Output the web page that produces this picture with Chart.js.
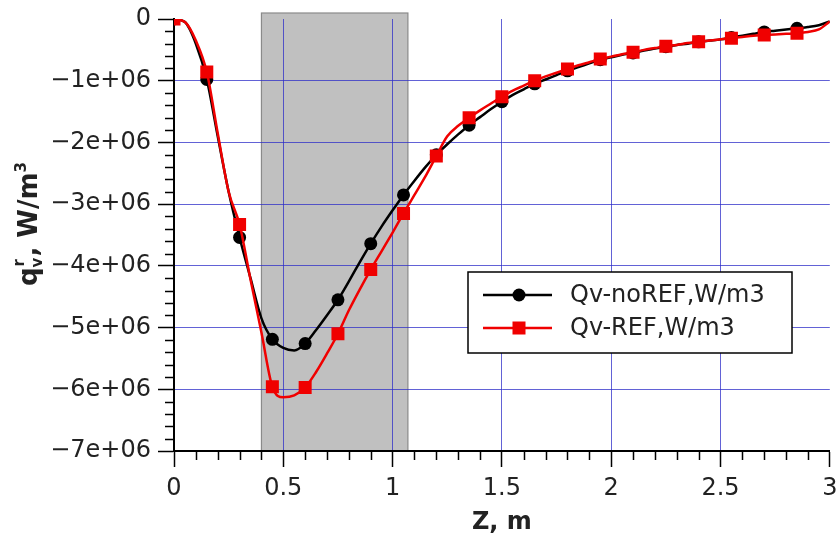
<!DOCTYPE html>
<html>
<head>
<meta charset="utf-8">
<script src="https://cdn.jsdelivr.net/npm/chart.js@4.4.1/dist/chart.umd.min.js"></script>
<style>
  html, body { margin: 0; padding: 0; background: #fff; }
  #wrap { width: 839px; height: 537px; }
</style>
</head>
<body>
<div id="wrap"><canvas id="chart" width="839" height="537"></canvas></div>
<script>
// Z positions, m
const zValues = [
  0.00, 0.05, 0.10, 0.15, 0.20, 0.25, 0.30, 0.35, 0.40, 0.45,
  0.50, 0.55, 0.60, 0.65, 0.70, 0.75, 0.80, 0.85, 0.90, 0.95,
  1.00, 1.05, 1.10, 1.15, 1.20, 1.25, 1.30, 1.35, 1.40, 1.45,
  1.50, 1.55, 1.60, 1.65, 1.70, 1.75, 1.80, 1.85, 1.90, 1.95,
  2.00, 2.05, 2.10, 2.15, 2.20, 2.25, 2.30, 2.35, 2.40, 2.45,
  2.50, 2.55, 2.60, 2.65, 2.70, 2.75, 2.80, 2.85, 2.90, 2.95,
  3.00
];

// Qv-noREF, W/m3
const qvNoRef = [
  0, -0.05e6, -0.40e6, -0.98e6, -1.90e6, -2.80e6, -3.54e6, -4.20e6, -4.85e6, -5.19e6,
  -5.33e6, -5.37e6, -5.26e6, -5.04e6, -4.80e6, -4.55e6, -4.25e6, -3.94e6, -3.64e6, -3.36e6,
  -3.10e6, -2.85e6, -2.62e6, -2.40e6, -2.20e6, -2.03e6, -1.87e6, -1.72e6, -1.59e6, -1.46e6,
  -1.34e6, -1.23e6, -1.14e6, -1.05e6, -0.98e6, -0.91e6, -0.84e6, -0.78e6, -0.72e6, -0.66e6,
  -0.62e6, -0.58e6, -0.55e6, -0.51e6, -0.48e6, -0.45e6, -0.42e6, -0.40e6, -0.37e6, -0.35e6,
  -0.33e6, -0.30e6, -0.27e6, -0.24e6, -0.21e6, -0.19e6, -0.17e6, -0.15e6, -0.13e6, -0.10e6,
  -0.04e6
];

// Qv-REF, W/m3
const qvRef = [
  0, -0.05e6, -0.35e6, -0.86e6, -1.85e6, -2.80e6, -3.33e6, -4.22e6, -5.08e6, -5.96e6,
  -6.13e6, -6.10e6, -5.97e6, -5.72e6, -5.42e6, -5.10e6, -4.72e6, -4.38e6, -4.06e6, -3.76e6,
  -3.46e6, -3.15e6, -2.85e6, -2.55e6, -2.22e6, -1.90e6, -1.73e6, -1.60e6, -1.48e6, -1.37e6,
  -1.26e6, -1.16e6, -1.08e6, -1.00e6, -0.93e6, -0.87e6, -0.81e6, -0.75e6, -0.70e6, -0.65e6,
  -0.61e6, -0.57e6, -0.54e6, -0.50e6, -0.47e6, -0.44e6, -0.42e6, -0.39e6, -0.37e6, -0.35e6,
  -0.33e6, -0.31e6, -0.29e6, -0.27e6, -0.26e6, -0.25e6, -0.24e6, -0.23e6, -0.21e6, -0.17e6,
  -0.04e6
];

// a marker is shown on every 3rd point (every 0.15 m), not on the last one
const markerEvery = 3;

const xTicks = [0, 0.5, 1, 1.5, 2, 2.5, 3];
const xTickLabels = ['0', '0.5', '1', '1.5', '2', '2.5', '3'];
const xMinorTicks = [0.1, 0.2, 0.3, 0.4, 0.6, 0.7, 0.8, 0.9, 1.1, 1.2, 1.3, 1.4,
  1.6, 1.7, 1.8, 1.9, 2.1, 2.2, 2.3, 2.4, 2.6, 2.7, 2.8, 2.9];

const yTicks = [0, -1e6, -2e6, -3e6, -4e6, -5e6, -6e6, -7e6];
const yTickLabels = ['0', '\u22121e+06', '\u22122e+06', '\u22123e+06', '\u22124e+06',
  '\u22125e+06', '\u22126e+06', '\u22127e+06'];
const yMinorTicks = [
  -0.2e6, -0.4e6, -0.6e6, -0.8e6, -1.2e6, -1.4e6, -1.6e6, -1.8e6,
  -2.2e6, -2.4e6, -2.6e6, -2.8e6, -3.2e6, -3.4e6, -3.6e6, -3.8e6,
  -4.2e6, -4.4e6, -4.6e6, -4.8e6, -5.2e6, -5.4e6, -5.6e6, -5.8e6,
  -6.2e6, -6.4e6, -6.6e6, -6.8e6
];

// shaded region along Z
const bandStart = 0.4;
const bandEnd = 1.07;

const seriesNames = ['Qv-noREF,W/m3', 'Qv-REF,W/m3'];

const FONT = "'DejaVu Sans', sans-serif";
Chart.defaults.font.family = FONT;
Chart.defaults.color = '#222';

function pts(ys){
  return zValues.map((z, i) => ({x: z, y: ys[i]}));
}
function markerRadius(r){
  return ctx => (ctx.dataIndex % markerEvery === 0 && ctx.dataIndex < zValues.length - 1) ? r : 0;
}

const datasets = [
  {
    label: seriesNames[1],
    data: pts(qvRef),
    borderColor: '#f00000',
    backgroundColor: '#f00000',
    borderWidth: 2.5,
    pointStyle: 'rect',
    pointRadius: markerRadius(9.2),
    pointBorderWidth: 0,
    cubicInterpolationMode: 'monotone',
    order: 0
  },
  {
    label: seriesNames[0],
    data: pts(qvNoRef),
    borderColor: '#000',
    backgroundColor: '#000',
    borderWidth: 2.5,
    pointStyle: 'circle',
    pointRadius: markerRadius(6.5),
    pointBorderWidth: 0,
    cubicInterpolationMode: 'monotone',
    order: 1
  }
];

// white background + grey band, before the grid
const bandPlugin = {
  id: 'band',
  beforeDraw(chart){
    const c = chart.ctx, a = chart.chartArea, xs = chart.scales.x;
    c.save();
    c.fillStyle = '#fff';
    c.fillRect(0, 0, chart.width, chart.height);
    const x0 = xs.getPixelForValue(bandStart), x1 = xs.getPixelForValue(bandEnd);
    c.fillStyle = '#c0c0c0';
    c.fillRect(x0, a.top - 6, x1 - x0, a.bottom - a.top + 6);
    c.strokeStyle = '#8a8a8a';
    c.lineWidth = 1.2;
    c.strokeRect(x0, a.top - 6, x1 - x0, a.bottom - a.top + 6);
    c.restore();
  }
};

// minor ticks, y title, legend
const extrasPlugin = {
  id: 'extras',
  afterDraw(chart){
    const c = chart.ctx, a = chart.chartArea;
    const xs = chart.scales.x, ys = chart.scales.y;
    c.save();
    c.strokeStyle = '#000';
    c.lineWidth = 1.5;
    c.beginPath();
    xMinorTicks.forEach(v => {
      const px = Math.round(xs.getPixelForValue(v)) + 0.5;
      c.moveTo(px, a.bottom);
      c.lineTo(px, a.bottom + 9);
    });
    yMinorTicks.forEach(v => {
      const py = Math.round(ys.getPixelForValue(v)) + 0.5;
      c.moveTo(a.left, py);
      c.lineTo(a.left - 9, py);
    });
    c.stroke();

    // y axis title: q with stacked r / v, then ", W/m" and superscript 3
    c.save();
    c.translate(37, 224);
    c.rotate(-Math.PI / 2);
    c.fillStyle = '#222';
    c.textBaseline = 'alphabetic';
    const big = 'bold 26px ' + FONT, small = 'bold 15px ' + FONT;
    c.font = big;
    const wq = c.measureText('q').width;
    const wmid = c.measureText(', W/m').width;
    c.font = small;
    const wsub = c.measureText('v').width;
    const w3 = c.measureText('3').width;
    const total = wq + wsub + 1 + wmid + w3;
    let x = -total / 2;
    c.font = big;
    c.fillText('q', x, 0);
    x += wq;
    c.font = small;
    c.fillText('r', x + 1, -13);
    c.fillText('v', x, 5);
    x += wsub + 1;
    c.font = big;
    c.fillText(', W/m', x, 0);
    x += wmid;
    c.font = small;
    c.fillText('3', x, -11);
    c.restore();

    // legend box
    const bx = 468, by = 272, bw = 324, bh = 81;
    c.fillStyle = '#fff';
    c.fillRect(bx, by, bw, bh);
    c.strokeStyle = '#000';
    c.lineWidth = 1.5;
    c.strokeRect(bx, by, bw, bh);
    const rows = [
      {y: by + 23, color: '#000', style: 'circle', r: 6.5, text: seriesNames[0]},
      {y: by + 56, color: '#f00000', style: 'rect', r: 9.2, text: seriesNames[1]}
    ];
    rows.forEach(row => {
      c.strokeStyle = row.color;
      c.lineWidth = 2.5;
      c.beginPath();
      c.moveTo(bx + 15, row.y);
      c.lineTo(bx + 84, row.y);
      c.stroke();
      c.fillStyle = row.color;
      Chart.helpers.drawPoint(c, {pointStyle: row.style, radius: row.r, borderWidth: 0}, bx + 51, row.y);
      c.fillStyle = '#222';
      c.font = '24px ' + FONT;
      c.textBaseline = 'middle';
      c.fillText(row.text, bx + 102, row.y + 1);
    });
    c.restore();
  }
};

new Chart(document.getElementById('chart'), {
  type: 'line',
  data: { datasets: datasets },
  plugins: [bandPlugin, extrasPlugin],
  options: {
    responsive: false,
    animation: false,
    layout: { padding: { top: 19, right: 9, left: 0, bottom: 0 } },
    plugins: { legend: { display: false }, tooltip: { enabled: false } },
    scales: {
      x: {
        type: 'linear',
        min: 0, max: 3,
        afterBuildTicks: s => { s.ticks = xTicks.map(v => ({value: v})); },
        afterFit: s => { s.height = 86; s.paddingLeft = 0; s.paddingRight = 0; },
        ticks: {
          callback: (v, i) => xTickLabels[i],
          font: { size: 24 },
          padding: 7,
          maxRotation: 0,
          autoSkip: false
        },
        grid: {
          color: ctx => (ctx.tick && (ctx.tick.value === 0 || ctx.tick.value === 3)) ? 'rgba(0,0,0,0)' : 'rgba(45,45,200,0.75)',
          lineWidth: 1,
          tickColor: '#000',
          tickWidth: 1.5,
          tickLength: 16
        },
        border: { color: '#000', width: 2 },
        title: {
          display: true,
          text: 'Z, m',
          font: { size: 24, weight: 'bold' },
          padding: { top: 0, bottom: 0 }
        }
      },
      y: {
        type: 'linear',
        min: -7e6, max: 0,
        afterBuildTicks: s => { s.ticks = yTicks.map(v => ({value: v})); },
        afterFit: s => { s.width = 174; s.paddingTop = 0; s.paddingBottom = 0; },
        ticks: {
          callback: (v, i) => yTickLabels[i],
          font: { size: 24 },
          padding: 7,
          autoSkip: false
        },
        grid: {
          color: ctx => (ctx.tick && ctx.tick.value === 0) ? 'rgba(0,0,0,0)' : 'rgba(45,45,200,0.75)',
          lineWidth: 1,
          tickColor: '#000',
          tickWidth: 1.5,
          tickLength: 16
        },
        border: { color: '#000', width: 2 }
      }
    }
  }
});
</script>
</body>
</html>
